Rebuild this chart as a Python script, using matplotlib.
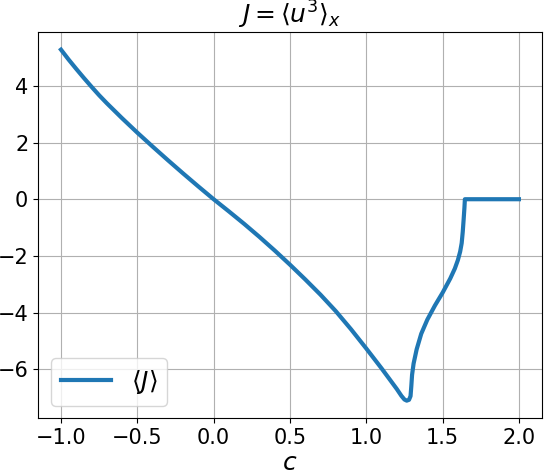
import numpy as np
import matplotlib
matplotlib.use("Agg")
import matplotlib.pyplot as plt

# values
c_vals = [-1.0, -0.95, -0.9, -0.85, -0.8, -0.75, -0.7, -0.6, -0.5, -0.4,
          -0.3, -0.2, -0.1, 0.0, 0.1, 0.2, 0.3, 0.4, 0.5, 0.6,
          0.7, 0.8, 0.9, 1.0, 1.1, 1.2, 1.23, 1.25, 1.265, 1.28,
          1.29, 1.295, 1.30, 1.31, 1.33, 1.36, 1.40, 1.45, 1.50, 1.55,
          1.58, 1.60, 1.615, 1.625, 1.632, 1.638, 1.643, 1.646, 1.70, 1.80,
          1.90, 2.0]
J_vals = [5.28, 4.93, 4.60, 4.28, 3.97, 3.67, 3.39, 2.86, 2.35, 1.86,
          1.38, 0.91, 0.45, 0.0, -0.43, -0.87, -1.33, -1.81, -2.31, -2.83,
          -3.37, -3.95, -4.59, -5.27, -5.97, -6.70, -6.94, -7.07, -7.11, -7.08,
          -6.95, -6.60, -6.20, -5.80, -5.30, -4.75, -4.25, -3.75, -3.30, -2.80,
          -2.45, -2.15, -1.85, -1.55, -1.15, -0.70, -0.30, 0.0, 0.0, 0.0,
          0.0, 0.0]

fig = plt.figure(figsize=(5.44, 4.72), dpi=100)
ax = fig.add_subplot(111)
fig.subplots_adjust(left=0.07, right=0.996, top=0.932, bottom=0.114)

ax.plot(c_vals, J_vals, lw=3, color='#1f77b4', label=r'$\langle J \rangle$')
ax.set_title(r'$J = \langle u^3 \rangle_x$', fontsize=18)
ax.set_xlabel(r'$c$', fontsize=18, labelpad=2)
ax.tick_params(labelsize=15)
ax.set_xticks([-1.0, -0.5, 0.0, 0.5, 1.0, 1.5, 2.0])
ax.set_yticks([-6, -4, -2, 0, 2, 4])
ax.grid(True)
ax.legend(loc='lower left', fontsize=18)

fig.savefig('out.png', dpi=100)
